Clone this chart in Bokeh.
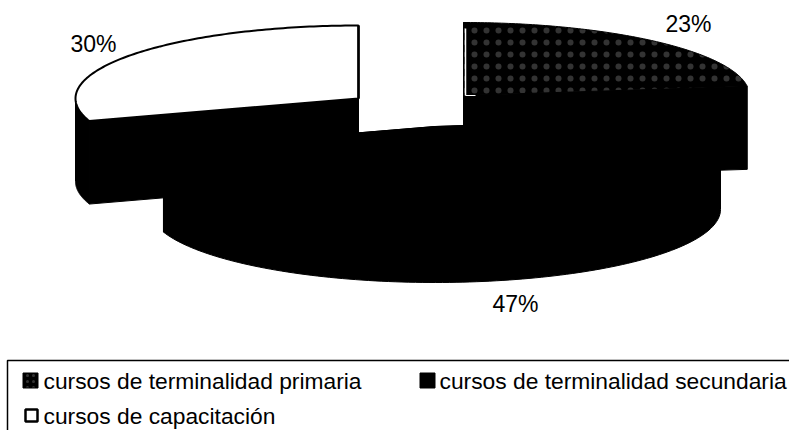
import numpy as np
from bokeh.plotting import figure
from bokeh.models import Range1d, ColumnDataSource
from bokeh.core.properties import value
from bokeh.embed import file_html
from bokeh.resources import INLINE

categories = ["cursos de terminalidad primaria", "cursos de terminalidad secundaria", "cursos de capacitación"]
values = [23, 47, 30]
labels = ["23%", "47%", "30%"]

W, H = 789, 430
p = figure(width=W, height=H, output_backend="svg", toolbar_location=None,
           x_range=Range1d(0, W), y_range=Range1d(H, 0),
           min_border=0, outline_line_color=None)
p.axis.visible = False
p.grid.visible = False
p.background_fill_color = "white"

RY, DEPTH = 73, 83
radii = [286, 285.5, 283]
centres = [(463, 95), (434.5, 126), (358, 98)]
fr = np.array(values) / sum(values)
ends = np.cumsum(fr) * 2 * np.pi
starts = np.r_[0, ends[:-1]]


def ell(i, a):
    c = centres[i]
    return c[0] + radii[i] * np.sin(a), c[1] - RY * np.cos(a)


def wedge(i):
    t = np.linspace(starts[i], ends[i], 120)
    x, y = ell(i, t)
    return np.r_[centres[i][0], x], np.r_[centres[i][1], y]


def band(i):
    # only the front of the rim (between 3 and 9 o'clock) is ever seen
    a0, a1 = max(starts[i], np.pi / 2), min(ends[i], 3 * np.pi / 2)
    if a1 <= a0:
        return None
    t = np.linspace(a0, a1, 120)
    x, y = ell(i, t)
    return np.r_[x, x[::-1]], np.r_[y, y[::-1] + DEPTH]


# solid side walls
for i in [0, 2, 1]:
    c = centres[i]
    b = band(i)
    if b is not None:
        p.patch(b[0], b[1], fill_color="black", line_color="black")
    for a in (starts[i], ends[i]):
        ex, ey = ell(i, a)
        p.patch([c[0], ex, ex, c[0]], [c[1], ey, ey + DEPTH, c[1] + DEPTH],
                fill_color="black", line_color="black")

# top faces
x, y = wedge(2)
p.patch(x, y, fill_color="white", line_color="black", line_width=2)
p.line([centres[2][0]] * 2, [centres[2][1], centres[2][1] - RY], line_color="black", line_width=2.5)

x, y = wedge(1)
p.patch(x, y, fill_color="black", line_color="black")

x, y = wedge(0)
p.patch(x, y, fill_color="black", line_color="black", hatch_pattern="dot",
        hatch_color="white", hatch_scale=12, hatch_weight=0.3, hatch_alpha=0.2)
p.line([centres[0][0] + 2] * 2, [centres[0][1], centres[0][1] - RY + 6], line_color="white", line_width=1.5)
p.line([centres[0][0] + 2, centres[0][0] + 12], [centres[0][1]] * 2, line_color="white", line_width=1)

# data labels
src = ColumnDataSource(dict(x=[688, 515, 93], y=[23, 303, 43], t=labels))
p.text("x", "y", text="t", source=src, text_font=value("Liberation Sans"), text_font_size="23px",
       text_align="center", text_baseline="middle", text_color="black")

# legend
p.line([7, 7, 789], [430, 360, 360], line_color="black", line_width=1.5)
t_x = [43, 439, 43]
t_y = [380, 380, 415]
p.rect(30, 380, 15, 15, fill_color="black", line_color="black", hatch_pattern="dot",
       hatch_color="white", hatch_scale=6, hatch_weight=0.5, hatch_alpha=0.2)
p.rect(427, 380, 15, 15, fill_color="black", line_color="black")
p.rect(31, 415, 12, 12, fill_color="white", line_color="black", line_width=2.5)
p.text(t_x, t_y, text=categories, text_font=value("Liberation Sans"), text_font_size="22.8px",
       text_align="left", text_baseline="middle", text_color="black")

open("out.html", "w").write(file_html(p, INLINE))
